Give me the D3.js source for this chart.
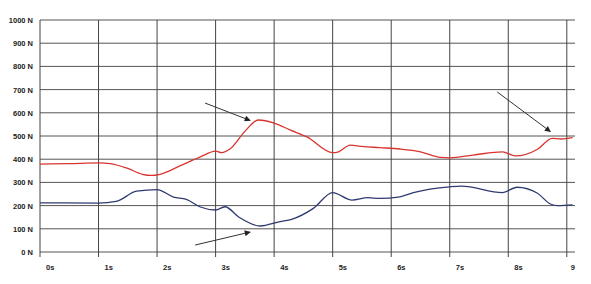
<!DOCTYPE html>
<html lang="en">
<head>
<meta charset="UTF-8" />
<title>Force over time</title>
<script src="https://d3js.org/d3.v7.min.js"></script>
<style>
  body { margin: 0; background: #fff; }
  text { font-family: "Liberation Sans", Arial, sans-serif; font-weight: bold; font-size: 7.5px; fill: #222; }
</style>
</head>
<body>
<script>
// data (seconds, newtons)
const redTimes = [0, 0.5, 1, 1.2, 1.5, 1.75, 1.9, 2.05, 2.39, 2.74, 3.0, 3.1, 3.25, 3.5, 3.73, 4.0, 4.27, 4.56, 5.0, 5.1, 5.3, 5.5, 5.8, 6.15, 6.5, 6.84, 7.0, 7.4, 7.9, 8.12, 8.5, 8.75, 8.9, 9.1];
const redForce = [379, 381, 384, 381, 360, 335, 330, 335, 371, 410, 435, 428, 445, 520, 569, 556, 526, 496, 428, 432, 461, 455, 450, 444, 432, 408, 406, 418, 432, 414, 443, 490, 487, 493];

const blueTimes = [0, 1, 1.3, 1.65, 2.0, 2.28, 2.5, 2.74, 3.0, 3.16, 3.4, 3.76, 4.1, 4.3, 4.67, 5.0, 5.33, 5.6, 5.8, 6.15, 6.38, 7.0, 7.2, 7.9, 8.15, 8.5, 8.72, 8.85, 9.1];
const blueForce = [212, 211, 218, 262, 269, 237, 227, 194, 181, 195, 150, 112, 131, 141, 188, 256, 224, 234, 231, 238, 256, 281, 284, 256, 279, 253, 207, 200, 203];

const yTicks = [0, 100, 200, 300, 400, 500, 600, 700, 800, 900, 1000];
const xTicks = [0, 1, 2, 3, 4, 5, 6, 7, 8, 9];
const xLabels = ["0s", "1s", "2s", "3s", "4s", "5s", "6s", "7s", "8s", "9"];

// arrows: [t0, N0, t1, N1]
const arrows = [
  [2.82, 642, 3.59, 567],
  [2.65, 30, 3.59, 86],
  [7.81, 690, 8.72, 519]
];

const W = 591, H = 284;
const svg = d3.select("body").append("svg").attr("width", W).attr("height", H);

const x = d3.scaleLinear().domain([0, 9.14]).range([40, 575]);
const y = d3.scaleLinear().domain([0, 1000]).range([252, 20]);

// horizontal grid
svg.append("g").selectAll("line").data(yTicks).join("line")
  .attr("x1", x(0)).attr("x2", x(9.14))
  .attr("y1", d => y(d)).attr("y2", d => y(d))
  .attr("stroke", "#555").attr("stroke-width", 1);

// vertical grid, running a little below the zero line as ticks
svg.append("g").selectAll("line").data(xTicks).join("line")
  .attr("x1", d => x(d)).attr("x2", d => x(d))
  .attr("y1", y(1000)).attr("y2", y(0) + 5)
  .attr("stroke", "#444").attr("stroke-width", 1);

svg.append("g").selectAll("text").data(yTicks).join("text")
  .attr("x", 33).attr("y", d => y(d) + 3)
  .attr("text-anchor", "end")
  .text(d => d + " N");

svg.append("g").selectAll("text").data(xTicks).join("text")
  .attr("x", d => x(d) + (d === 9 ? 4 : 6)).attr("y", 270)
  .text((d, i) => xLabels[i]);

const line = d3.line().x(d => x(d[0])).y(d => y(d[1])).curve(d3.curveMonotoneX);

svg.append("path").datum(d3.zip(redTimes, redForce))
  .attr("d", line).attr("fill", "none")
  .attr("stroke", "#d8352f").attr("stroke-width", 1.3);

svg.append("path").datum(d3.zip(blueTimes, blueForce))
  .attr("d", line).attr("fill", "none")
  .attr("stroke", "#2f3b70").attr("stroke-width", 1.3);

svg.append("defs").append("marker")
  .attr("id", "head").attr("viewBox", "0 0 10 10")
  .attr("refX", 9).attr("refY", 5)
  .attr("markerWidth", 7).attr("markerHeight", 6)
  .attr("orient", "auto")
  .append("path").attr("d", "M0,0 L10,5 L0,10 z").attr("fill", "#222");

svg.append("g").selectAll("line").data(arrows).join("line")
  .attr("x1", d => x(d[0])).attr("y1", d => y(d[1]))
  .attr("x2", d => x(d[2])).attr("y2", d => y(d[3]))
  .attr("stroke", "#333").attr("stroke-width", 1)
  .attr("marker-end", "url(#head)");
</script>
</body>
</html>
